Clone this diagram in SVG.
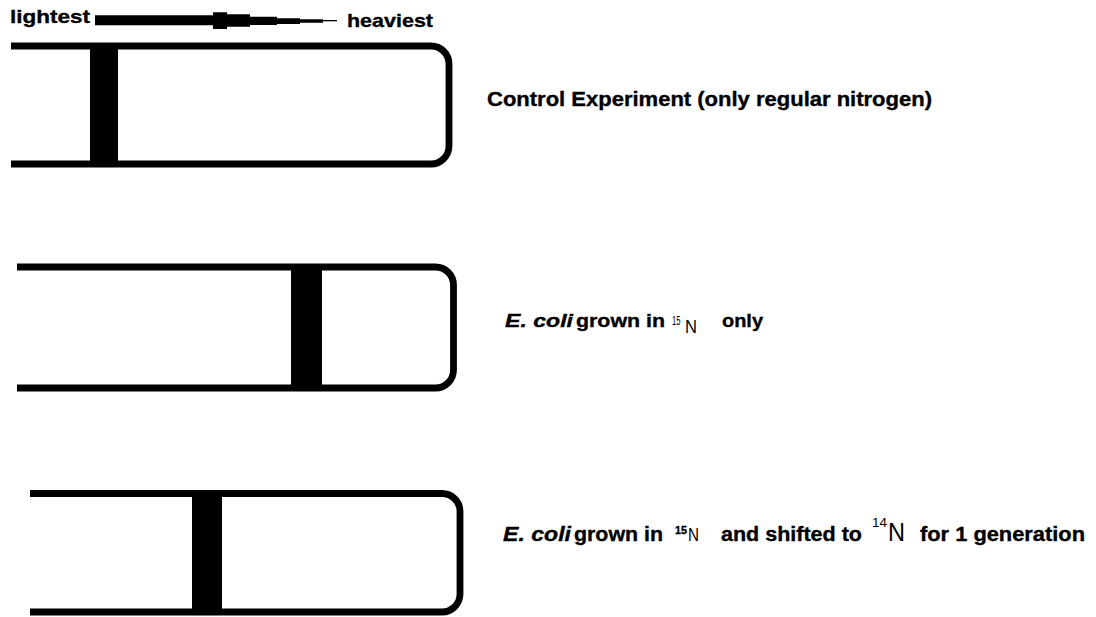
<svg xmlns="http://www.w3.org/2000/svg" width="1096" height="617" viewBox="0 0 1096 617">
<style>
.tube{fill:none;stroke:#000;stroke-width:6.8;stroke-linejoin:round}
.band{fill:#000}
.t{font-family:"Liberation Sans",Arial,sans-serif;font-weight:bold;fill:#000;stroke:#000;stroke-width:0.35}
.r{font-weight:normal;stroke:none}
</style>
<rect width="1096" height="617" fill="#fff"/>
<g id="scale">
<text class="t" x="10" y="23" font-size="19" textLength="80" lengthAdjust="spacingAndGlyphs">lightest</text>
<path d="M95 15.3H213V12.3H227V14.3H250V16.7H277V18.3H300V19.3H323V22.7H300V24H277V25H250V26.7H227V29H213V25.3H95Z" fill="#000"/>
<rect x="323" y="20" width="14" height="1.3" fill="#000"/>
<text class="t" x="347" y="27" font-size="19" textLength="86" lengthAdjust="spacingAndGlyphs">heaviest</text>
</g>
<g id="tube1">
<path class="tube" d="M11 46H431A18 18 0 0 1 449 64V146A18 18 0 0 1 431 164H11"/>
<rect class="band" x="90" y="46" width="28" height="118"/>
</g>
<g id="label1">
<text class="t" x="487" y="106" font-size="20" textLength="445" lengthAdjust="spacingAndGlyphs">Control Experiment (only regular nitrogen)</text>
</g>
<g id="tube2">
<path class="tube" d="M17 267H435.5A18 18 0 0 1 453.5 285V370A18 18 0 0 1 435.5 388H17"/>
<rect class="band" x="291" y="267" width="31" height="121"/>
</g>
<g id="label2">
<text class="t" font-size="19"><tspan x="505" y="327" font-style="italic" textLength="68" lengthAdjust="spacingAndGlyphs">E. coli</tspan><tspan x="576" y="327" textLength="89" lengthAdjust="spacingAndGlyphs">grown in</tspan><tspan class="r" x="672" y="325" font-size="12" textLength="8.5" lengthAdjust="spacingAndGlyphs">15</tspan><tspan class="r" x="685" y="333" font-size="18" textLength="12" lengthAdjust="spacingAndGlyphs">N</tspan><tspan x="722" y="327" textLength="41" lengthAdjust="spacingAndGlyphs">only</tspan></text>
</g>
<g id="tube3">
<path class="tube" d="M30 493.5H442A18 18 0 0 1 460 511.5V594A18 18 0 0 1 442 612H30"/>
<rect class="band" x="192" y="493.5" width="30" height="118.5"/>
</g>
<g id="label3">
<text class="t" font-size="20"><tspan x="503" y="541" font-style="italic" textLength="68" lengthAdjust="spacingAndGlyphs">E. coli</tspan><tspan x="574" y="541" textLength="89" lengthAdjust="spacingAndGlyphs">grown in</tspan><tspan x="675" y="533.5" font-size="11" textLength="12" lengthAdjust="spacingAndGlyphs">15</tspan><tspan class="r" x="688" y="541" font-size="18" textLength="11" lengthAdjust="spacingAndGlyphs">N</tspan><tspan x="721" y="541" textLength="141" lengthAdjust="spacingAndGlyphs">and shifted to</tspan><tspan class="r" x="872" y="527" font-size="12" textLength="15" lengthAdjust="spacingAndGlyphs">14</tspan><tspan class="r" x="888" y="541" font-size="26" textLength="17" lengthAdjust="spacingAndGlyphs">N</tspan><tspan x="920" y="541" textLength="165" lengthAdjust="spacingAndGlyphs">for 1 generation</tspan></text>
</g>
</svg>
